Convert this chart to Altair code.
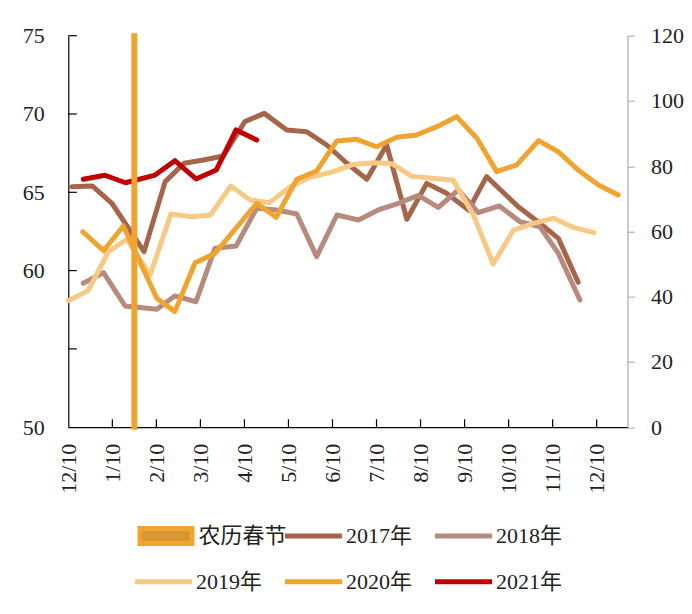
import altair as alt
import pandas as pd

# ---------------- data ----------------
tick_labels = ["12/10", "1/10", "2/10", "3/10", "4/10", "5/10", "6/10",
               "7/10", "8/10", "9/10", "10/10", "11/10", "12/10"]
left_values = [50, 55, 60, 65, 70, 75]
right_values = [0, 20, 40, 60, 80, 100, 120]

bar_name = ["农历春节"]
bar_color = ["#D69631"]
group1_names = ["2017年", "2018年"]
group1_colors = ["#A5654B", "#B88A7E"]
group2_names = ["2019年", "2020年", "2021年"]
group2_colors = ["#F6C985", "#F0A430", "#C00000"]

# x = months after 12/10
spring_x = [1.50]
spring_v = [120]

x2017 = [0.08, 0.55, 0.99, 1.72, 2.20, 2.63, 3.07, 3.52, 4.01, 4.45, 4.96, 5.41, 5.87,
         6.32, 6.78, 7.23, 7.69, 8.14, 8.59, 9.09, 9.50, 10.22, 10.71, 11.13, 11.58]
v2017 = [65.36, 65.40, 64.30, 61.21, 65.68, 66.85, 67.06, 67.32, 69.51, 70.04, 68.98, 68.87, 68.02,
         66.87, 65.83, 68.02, 63.28, 65.57, 64.94, 63.87, 66.00, 64.08, 63.02, 62.06, 59.25]

x2018 = [0.34, 0.80, 1.29, 2.01, 2.42, 2.90, 3.33, 3.81, 4.28, 4.73, 5.19, 5.64, 6.10,
         6.59, 7.04, 7.50, 7.95, 8.40, 8.86, 9.31, 9.79, 10.26, 10.71, 11.13, 11.62]
v2018 = [59.19, 59.87, 57.74, 57.53, 58.38, 58.01, 61.42, 61.57, 63.98, 63.87, 63.61, 60.89, 63.55,
         63.23, 63.87, 64.30, 64.80, 64.03, 65.15, 63.70, 64.13, 63.12, 62.80, 61.10, 58.12]

x2019 = [0.00, 0.45, 0.91, 1.33, 1.86, 2.33, 2.80, 3.23, 3.69, 4.13, 4.57, 5.04, 5.49, 6.02,
         6.47, 6.93, 7.35, 7.80, 8.25, 8.74, 9.20, 9.65, 10.11, 10.56, 11.02, 11.47, 11.94]
v2019 = [58.08, 58.72, 61.21, 62.00, 59.72, 63.61, 63.44, 63.55, 65.40, 64.51, 64.34, 65.36, 65.96, 66.32,
         66.78, 66.89, 66.83, 66.02, 65.89, 65.79, 63.55, 60.42, 62.59, 63.02, 63.34, 62.76, 62.42]

x2020 = [0.33, 0.80, 1.25, 2.01, 2.42, 2.88, 3.33, 4.28, 4.72, 5.19, 5.64, 6.10, 6.55,
         7.00, 7.46, 7.91, 8.37, 8.82, 9.28, 9.73, 10.18, 10.68, 11.13, 11.58, 12.04, 12.49]
v2020 = [62.48, 61.27, 62.85, 58.23, 57.38, 60.50, 61.10, 64.30, 63.40, 65.83, 66.36, 68.28, 68.38,
         67.91, 68.51, 68.66, 69.19, 69.83, 68.45, 66.32, 66.74, 68.30, 67.59, 66.42, 65.47, 64.83]

x2021 = [0.34, 0.83, 1.30, 1.97, 2.42, 2.90, 3.36, 3.81, 4.28]
v2021 = [65.83, 66.09, 65.61, 66.10, 67.02, 65.85, 66.42, 68.98, 68.34]

# ---------------- layout / style ----------------
W, H = 559.2, 391.5
X_END = 12.70
FONT = "Liberation Serif, Noto Sans CJK SC"
TXT = "#222222"
LEG_X = 64.2
ROW1_Y = 489.3
ROW2_Y = 535.0


def long_df(items):
    rows = []
    for name, xs, vs in items:
        for a, b in zip(xs, vs):
            rows.append({"series": name, "m": a, "v": b})
    return pd.DataFrame(rows)


df1 = long_df([("2017年", x2017, v2017), ("2018年", x2018, v2018)])
df2 = long_df([("2019年", x2019, v2019), ("2020年", x2020, v2020), ("2021年", x2021, v2021)])
bar_df = pd.DataFrame({"series": bar_name * len(spring_x), "m": spring_x, "v": spring_v})
xt_df = pd.DataFrame({"m": list(range(1, len(tick_labels)))})
lt_df = pd.DataFrame({"v": left_values[1:]})

label_js = "[" + ",".join("'%s'" % t for t in tick_labels) + "][datum.value]"

xscale = alt.Scale(domain=[0, X_END], nice=False, zero=False, padding=0)
yscale = alt.Scale(domain=[50, 75], nice=False, zero=False, padding=0)
rscale = alt.Scale(domain=[0, 120], nice=False, zero=False, padding=0)


def make_legend(lx, ly, ncol, **kw):
    return alt.Legend(
        title=None, orient="none", legendX=lx, legendY=ly, columns=ncol,
        direction="horizontal", gridAlign="all", columnPadding=20, rowPadding=0,
        symbolSize=3249, symbolStrokeWidth=5, clipHeight=22,
        labelFont=FONT, labelFontSize=22, labelColor=TXT, labelOffset=1.5,
        padding=0, labelLimit=300, **kw)


x_axis = alt.Axis(values=list(range(len(tick_labels))), labelExpr=label_js, labelAngle=270,
                  labelAlign="right", labelBaseline="middle", labelPadding=16,
                  ticks=False, tickSize=0, domainColor="#000000", domainWidth=1.2,
                  labelFont=FONT, labelFontSize=22, labelColor=TXT, grid=False, title=None)
y_axis = alt.Axis(values=left_values, labelExpr="datum.value == 55 ? '' : datum.label",
                  ticks=False, tickSize=0, labelPadding=24, domainColor="#000000", domainWidth=1.2,
                  labelFont=FONT, labelFontSize=22, labelColor=TXT, grid=False, title=None)
r_axis = alt.Axis(orient="right", values=right_values, tickSize=7, tickColor="#A6A6A6",
                  domainColor="#A6A6A6", domainWidth=1.2, labelPadding=16,
                  labelFont=FONT, labelFontSize=22, labelColor=TXT, grid=False, title=None)

X = alt.X("m:Q", scale=xscale, axis=x_axis)
Y = alt.Y("v:Q", scale=yscale, axis=y_axis)

lines1 = alt.Chart(df1).mark_line(strokeWidth=5, strokeCap="round", strokeJoin="round").encode(
    x=X, y=Y,
    stroke=alt.Stroke("series:N", scale=alt.Scale(domain=group1_names, range=group1_colors),
                      legend=make_legend(LEG_X + 150, ROW1_Y, 2)),
)

lines2 = alt.Chart(df2).mark_line(strokeWidth=5, strokeCap="round", strokeJoin="round").encode(
    x=X, y=Y,
    color=alt.Color("series:N", scale=alt.Scale(domain=group2_names, range=group2_colors),
                    legend=make_legend(LEG_X, ROW2_Y, 3)),
)

lticks = alt.Chart(lt_df).mark_rule(color="#000000", strokeWidth=1.2).encode(
    y=Y, x=alt.value(0), x2=alt.value(8.5),
)

xticks = alt.Chart(xt_df).mark_rule(color="#000000", strokeWidth=1.2).encode(
    x=X, y=alt.value(H), y2=alt.value(H - 8),
)

bar = alt.Chart(bar_df).mark_bar(size=1, stroke="#F0A430", strokeWidth=5).encode(
    x=X,
    y=alt.Y("v:Q", scale=rscale, axis=r_axis),
    fill=alt.Fill("series:N", scale=alt.Scale(domain=bar_name, range=bar_color),
                  legend=make_legend(LEG_X + 2.5, ROW1_Y, 1,
                                     symbolType="M-0.912,-0.263H0.912V0.263H-0.912Z",
                                     symbolStrokeColor="#F0A430")),
)

chart = alt.layer(alt.layer(lines1, lines2, lticks, xticks), bar).resolve_scale(
    y="independent"
).properties(
    width=W, height=H,
    autosize=alt.AutoSizeParams(type="none"),
    padding={"left": 60.3, "top": 27.7, "right": 56.5, "bottom": 170},
    background="#ffffff",
).configure_view(strokeWidth=0)

chart.save("out.html", embed_options={"renderer": "svg", "actions": False})
